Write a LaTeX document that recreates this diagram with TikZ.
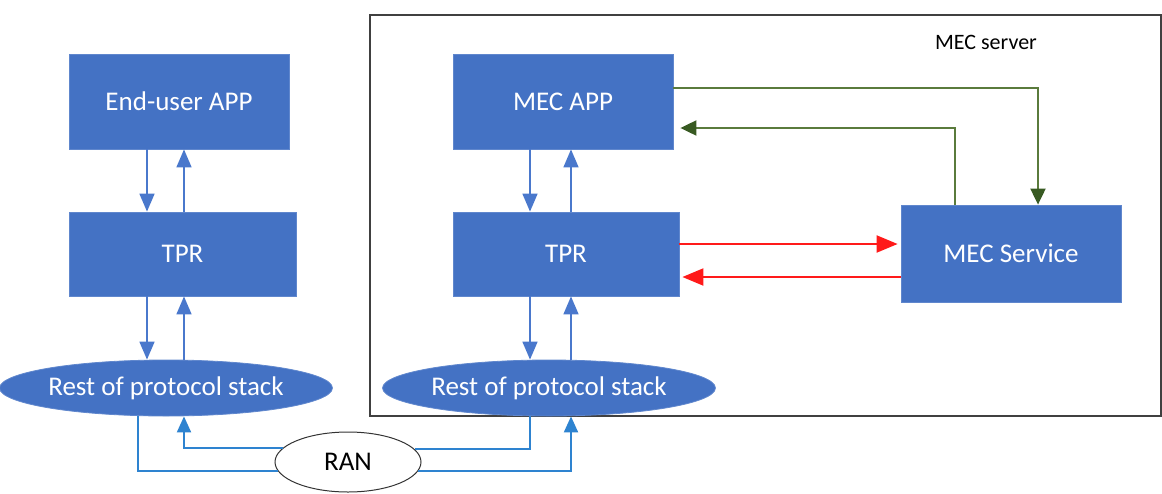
\documentclass[tikz,border=0pt]{standalone}
\usepackage{fontspec}
\setmainfont{Carlito}
\usetikzlibrary{shapes.geometric,arrows.meta,calc}
\definecolor{boxblue}{HTML}{4472C4}
\definecolor{linkblue}{HTML}{4A78CC}
\definecolor{ranblue}{HTML}{2E83D0}
\definecolor{mecgreen}{HTML}{5A7B3C}
\definecolor{headgreen}{HTML}{385A22}
\definecolor{redline}{HTML}{FF1A1A}
\definecolor{framegray}{HTML}{404040}
\tikzset{
  blk/.style={rectangle, fill=boxblue, draw=boxblue!85!white, line width=0.8pt, text=white, inner sep=0pt,
    font=\fontsize{27}{32}\selectfont},
  stack/.style={ellipse, fill=boxblue, draw=boxblue!85!white, line width=0.8pt, text=white, inner sep=0pt,
    minimum width=308pt, minimum height=56pt, font=\fontsize{27}{32}\selectfont},
  link/.style={draw=linkblue, line width=1.6pt, -{Triangle[length=18pt,width=15pt,fill=linkblue]}},
  ranlink/.style={draw=ranblue, line width=2pt},
  ranarrow/.style={ranlink, -{Triangle[length=16pt,width=14pt,fill=ranblue]}},
  grn/.style={draw=mecgreen, line width=2pt, -{Triangle[length=16pt,width=15pt,fill=headgreen,color=headgreen]}},
  redarrow/.style={draw=redline, line width=2pt, -{Triangle[length=21pt,width=17pt,fill=redline]}},
}
\begin{document}
\begin{tikzpicture}[x=1pt,y=-1pt]
\useasboundingbox (0,0) rectangle (1162,493);

% MEC server frame
\node[draw=framegray, line width=1.8pt, inner sep=0pt, minimum width=791pt, minimum height=401pt, anchor=north west] (frame) at (369,14) {};
\node[font=\fontsize{22}{26}\selectfont, text=black] (srvlabel) at (986,42) {MEC server};

% boxes
\node[blk, minimum width=220pt, minimum height=95pt] (eapp) at (179,101.5) {End-user APP};
\node[blk, minimum width=227pt, minimum height=84pt] (tprL) at (182.5,254) {TPR};
\node[stack] (ellL) at (166,388) {Rest of protocol stack};

\node[blk, minimum width=220pt, minimum height=95pt] (mecapp) at (563,101.5) {MEC APP};
\node[blk, minimum width=226pt, minimum height=84pt] (tprR) at (566,254) {TPR};
\node[stack] (ellR) at (549,388) {Rest of protocol stack};

\node[blk, minimum width=220pt, minimum height=97pt] (svc) at (1011,253.5) {MEC Service};

\node[ellipse, draw=black!80, line width=1pt, fill=white, inner sep=0pt, minimum width=146pt, minimum height=60pt,
  font=\fontsize{27}{32}\selectfont] (ran) at (348,462) {RAN};

% x positions of vertical links
\coordinate (xL1) at (147,0);
\coordinate (xL2) at (184,0);
\coordinate (xLb) at (138,0);
\coordinate (xR1) at (530,0);
\coordinate (xR2) at (571,0);

% left column
\draw[link] (eapp.south -| xL1) -- (tprL.north -| xL1);
\draw[link] (tprL.north -| xL2) -- (eapp.south -| xL2);
\draw[link] (tprL.south -| xL1) -- (ellL.north -| xL1);
\draw[link] (ellL.north -| xL2) -- (tprL.south -| xL2);

% right column
\draw[link] (mecapp.south -| xR1) -- (tprR.north -| xR1);
\draw[link] (tprR.north -| xR2) -- (mecapp.south -| xR2);
\draw[link] (tprR.south -| xR1) -- (ellR.north -| xR1);
\draw[link] (ellR.north -| xR2) -- (tprR.south -| xR2);

% RAN connections
\draw[ranlink] (ellL.south -| xLb) |- (ran.187.4);
\draw[ranarrow] (ran.168.8) -| (ellL.south -| xL2);
\draw[ranlink] (ellR.south -| xR1) |- (ran.11.2);
\draw[ranarrow] (ran.-7.4) -| (ellR.south -| xR2);

% MEC APP <-> MEC Service
\coordinate (g1) at (1038,88);
\coordinate (g2) at (955,128);
\draw[grn] (mecapp.east |- g1) -| (svc.north -| g1);
\draw[grn, shorten >=7pt] (svc.north -| g2) |- (mecapp.east |- g2);

% TPR <-> MEC Service
\coordinate (r1) at (0,244);
\coordinate (r2) at (0,277);
\draw[redarrow, shorten >=3pt] (tprR.east |- r1) -- (svc.west |- r1);
\draw[redarrow, shorten >=3pt] (svc.west |- r2) -- (tprR.east |- r2);
\end{tikzpicture}
\end{document}
